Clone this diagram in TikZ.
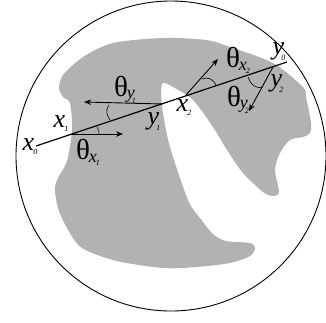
\documentclass[tikz,border=0pt]{standalone}
\usepackage{fontspec}
\setmainfont{Liberation Serif}
\usetikzlibrary{arrows.meta}
\newcommand{\bigv}[2]{{\fontsize{26}{26}\selectfont\itshape x}\kern-1pt\raisebox{-4pt}{\fontsize{8}{8}\selectfont\itshape #2}}
\newcommand{\bigy}[1]{{\fontsize{26}{26}\selectfont\itshape y}\kern-3pt\raisebox{-6pt}{\fontsize{8}{8}\selectfont\itshape #1}}
\newcommand{\thv}[1]{{\fontsize{29}{29}\selectfont θ}\kern-1pt\raisebox{-3pt}{\fontsize{18}{18}\selectfont\itshape x}\kern-1pt\raisebox{-6pt}{\fontsize{8}{8}\selectfont\itshape #1}}
\newcommand{\thy}[1]{{\fontsize{29}{29}\selectfont θ}\kern-1pt\raisebox{-2pt}{\fontsize{18}{18}\selectfont\itshape y}\kern-3pt\raisebox{-7pt}{\fontsize{8}{8}\selectfont\itshape #1}}
\definecolor{shapegray}{gray}{0.7}
\tikzset{
  main/.style={line width=1.2pt,black},
  vec/.style={line width=0.9pt,black,-{Stealth[length=7pt,width=5.5pt]}},
  ang/.style={line width=0.6pt,black},
  lab/.style={inner sep=0pt,outer sep=0pt,anchor=center}
}
\begin{document}
\begin{tikzpicture}[x=1pt,y=-1pt]
\useasboundingbox (0,0) rectangle (326,322);
\draw[line width=0.9pt] (171,156) circle [radius=155];
\fill[shapegray] plot[smooth cycle,tension=0.5] coordinates {
 (163,38) (206,40) (230,47) (273,63) (303,87) (306,97) (311,123) (310,133) (303,137) (290,140) (280,153) (275,170) (279,192) (273,196) (263,192) (243,173) (227,150) (213,127)
 (193,100) (173,87) (163,83) (161,93) (163,113) (170,147) (188,200) (200,218) (213,234) (226,241) (250,243) (255,248) (250,256) (230,263) (196,267) (163,268) (117,261) (82,248) (67,228) (58,208) (55,189) (58,178) (67,161) (72,130) (70,103) (63,97) (59,88) (63,75) (83,57) (113,43)};
\coordinate (x0) at (36,146);
\coordinate (yend) at (287,62);
\coordinate (y1p) at (163,104);
\coordinate (x1p) at (70,134);
\coordinate (x2p) at (186,95);
\coordinate (y2p) at (273,67);
\coordinate (ay1) at (84,102);
\coordinate (ax1) at (123,134);
\coordinate (ax2) at (218,59);
\coordinate (ay2) at (249,111);
\draw[main] (x0) -- (yend);
\draw[vec] (y1p) -- (ay1);
\draw[vec] (x1p) -- (ax1);
\draw[vec] (x2p) -- (ax2);
\draw[vec] (y2p) -- (ay2);
\draw[ang] (109,105) .. controls (105,110) and (107,116) .. (110,120);
\draw[ang] (97,127) .. controls (99,129) and (99,132) .. (99,134);
\draw[ang] (202,79) .. controls (208,76) and (214,80) .. (216,85);
\draw[ang] (248,77) .. controls (250,84) and (257,90) .. (263,87);
\node[lab] (tx0) at (30,147) {\bigv{x}{0}};
\node[lab] (tx1) at (61,124) {\bigv{x}{1}};
\node[lab] (tx2) at (184,108) {\bigv{x}{2}};
\node[lab] (ty0) at (279,52) {\bigy{0}};
\node[lab] (ty1) at (154,122) {\bigy{1}};
\node[lab] (ty2) at (277,84) {\bigy{2}};
\node[lab] (thy1) at (125,90) {\thy{1}};
\node[lab] (thx1) at (88,152) {\thv{1}};
\node[lab] (thx2) at (238,60) {\thv{2}};
\node[lab] (thy2) at (238,100) {\thy{2}};
\end{tikzpicture}
\end{document}
